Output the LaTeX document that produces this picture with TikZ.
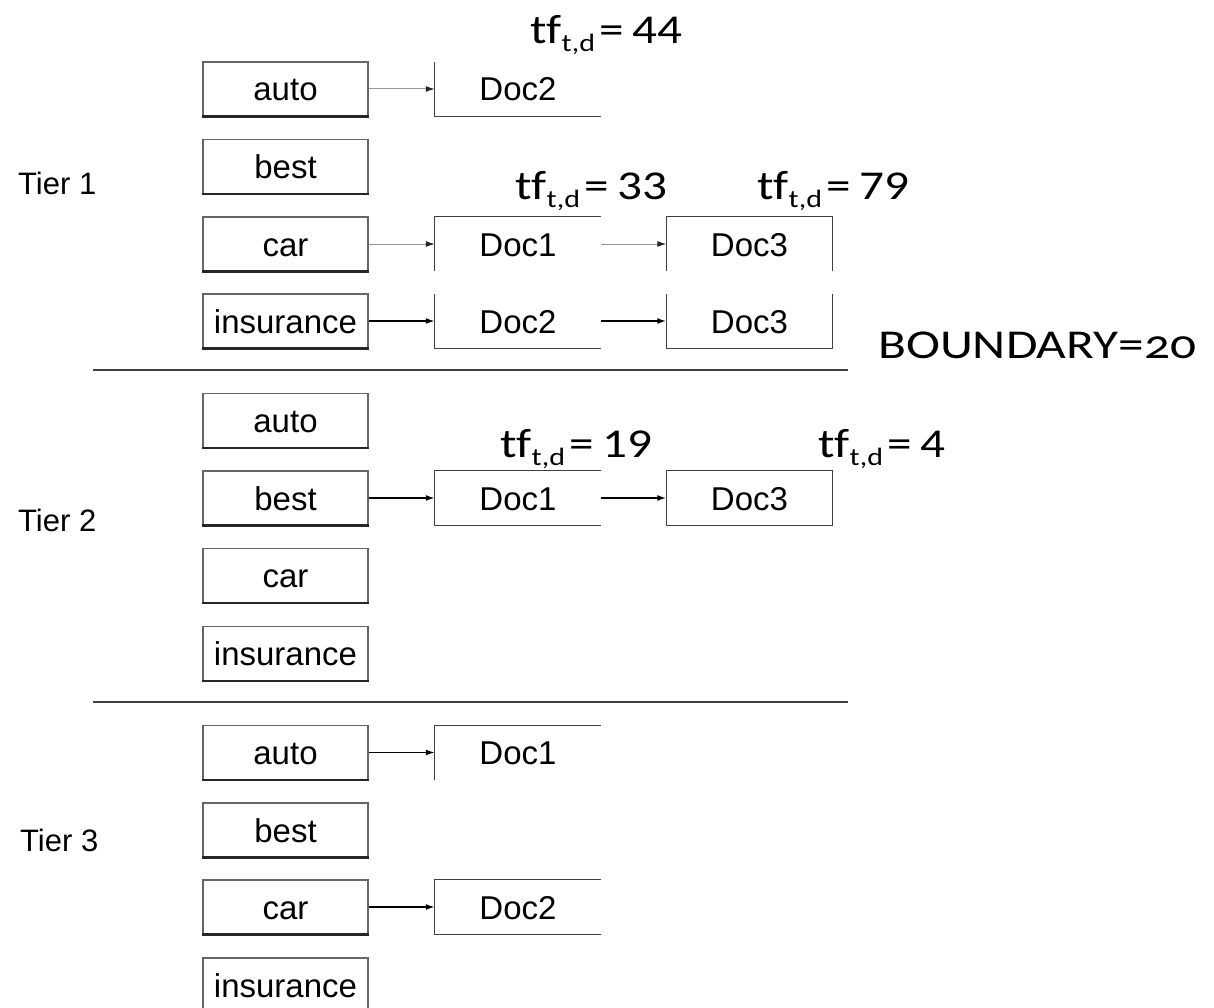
\documentclass[tikz,border=0pt]{standalone}
\usepackage{fontspec}
\usepackage{graphicx}
\setmainfont{Liberation Sans}
\newfontfamily\tffont[Ligatures=NoCommon]{Carlito}
\newfontfamily\tffontold[Numbers=OldStyle]{Carlito}
\usetikzlibrary{arrows.meta}

% term-frequency label: tf with subscript t,d
\newcommand\tfval[1]{\scalebox{1.2}[1]{tf\raisebox{-8pt}{\fontsize{25}{25}\selectfont t,d}\kern4pt=\kern7pt#1}}

\begin{document}
\begin{tikzpicture}[x=1pt,y=-1pt,
  termbox/.style={draw=black!60, line width=1.1pt, minimum width=165pt,
    minimum height=54pt, inner sep=0pt, text height=26pt, text depth=2pt,
    font=\fontsize{33}{38}\selectfont},
  docbox/.style={minimum width=166pt, minimum height=54pt, inner sep=0pt,
    text height=26pt, text depth=2pt, font=\fontsize{33}{38}\selectfont},
  docedge/.style={draw=black!75, line width=1.1pt},
  shadowedge/.style={draw=black!85, line width=2.2pt},
  tierlabel/.style={anchor=west, inner sep=0pt, font=\fontsize{31}{36}\selectfont},
  tflabel/.style={anchor=base west, inner sep=0pt, font=\tffont\fontsize{41}{48}\selectfont},
  ptr/.style={-{Latex[length=9pt,width=6pt]}, line width=1.6pt, black},
  ptrlight/.style={-{Latex[length=9pt,width=6pt,color=black!85]}, line width=1pt, black!40},
  divider/.style={line width=2.6pt, black!75},
]
\useasboundingbox (0,0) rectangle (1214,1008);

% ---------- Tier 1 ----------
\node[tierlabel] (tier1) at (18,183) {Tier 1};
\node[termbox] (a1) at (285.5,89)  {auto};
\node[termbox] (b1) at (285.5,166.5) {best};
\node[termbox] (c1) at (285.5,244) {car};
\node[termbox] (i1) at (285.5,321) {insurance};

\node[docbox] (a1d2) at (518,89)  {Doc2};
\node[docbox] (c1d1) at (518,244) {Doc1};
\node[docbox] (c1d3) at (749.5,244) {Doc3};
\node[docbox] (i1d2) at (518,321) {Doc2};
\node[docbox] (i1d3) at (749.5,321) {Doc3};

\draw[docedge] (a1d2.north west) -- (a1d2.south west) -- (a1d2.south east);
\draw[docedge] (c1d1.north east) -- (c1d1.north west) -- (c1d1.south west);
\draw[docedge] (c1d3.south west) -- (c1d3.north west) -- (c1d3.north east) -- (c1d3.south east);
\draw[docedge] (i1d2.north west) -- (i1d2.south west) -- (i1d2.south east);
\draw[docedge] (i1d3.north west) -- (i1d3.south west) -- (i1d3.south east) -- (i1d3.north east);

\draw[ptrlight] (a1) -- (a1d2);
\draw[ptrlight] (c1) -- (c1d1);
\draw[ptrlight] (c1d1) -- (c1d3);
\draw[ptr] (i1) -- (i1d2);
\draw[ptr] (i1d2) -- (i1d3);

\node[tflabel] (tf44) at (530,44)  {\tfval{44}};
\node[tflabel] (tf33) at (515,200) {\tfval{33}};
\node[tflabel] (tf79) at (757,200) {\tfval{79}};
\node[anchor=base west, inner sep=0pt, font=\tffontold\fontsize{41}{48}\selectfont]
  (bound) at (878,358) {\scalebox{1.25}[1]{BOUNDARY=20}};

\draw[divider] (93,370) -- (848,370);

% ---------- Tier 2 ----------
\node[tierlabel] (tier2) at (18,520) {Tier 2};
\node[termbox] (a2) at (285.5,420.5) {auto};
\node[termbox] (b2) at (285.5,498) {best};
\node[termbox] (c2) at (285.5,575.5) {car};
\node[termbox] (i2) at (285.5,653.5) {insurance};

\node[docbox] (b2d1) at (518,498) {Doc1};
\node[docbox] (b2d3) at (749.5,498) {Doc3};

\draw[docedge] (b2d1.north east) -- (b2d1.north west) -- (b2d1.south west) -- (b2d1.south east);
\draw[docedge] (b2d3.north west) rectangle (b2d3.south east);

\draw[ptr] (b2) -- (b2d1);
\draw[ptr] (b2d1) -- (b2d3);

\node[tflabel] (tf19) at (500,457) {\tfval{19}};
\node[tflabel] (tf4)  at (818,457) {\tfval{4}};

\draw[divider] (93,702) -- (848,702);

% ---------- Tier 3 ----------
\node[tierlabel] (tier3) at (20,840) {Tier 3};
\node[termbox] (a3) at (285.5,752.5) {auto};
\node[termbox] (b3) at (285.5,830) {best};
\node[termbox] (c3) at (285.5,907) {car};
\node[termbox] (i3) at (285.5,985) {insurance};

\node[docbox] (a3d1) at (518,752.5) {Doc1};
\node[docbox] (c3d2) at (518,907) {Doc2};

\draw[docedge] (a3d1.north east) -- (a3d1.north west) -- (a3d1.south west);
\draw[docedge] (c3d2.north east) -- (c3d2.north west) -- (c3d2.south west) -- (c3d2.south east);

\draw[ptr] (a3) -- (a3d1);
\draw[ptr] (c3) -- (c3d2);

% darker lower edge of every term box
\foreach \n in {a1,b1,c1,i1,a2,b2,c2,i2,a3,b3,c3,i3}
  \draw[shadowedge] (\n.south west) -- (\n.south east);
\end{tikzpicture}
\end{document}
